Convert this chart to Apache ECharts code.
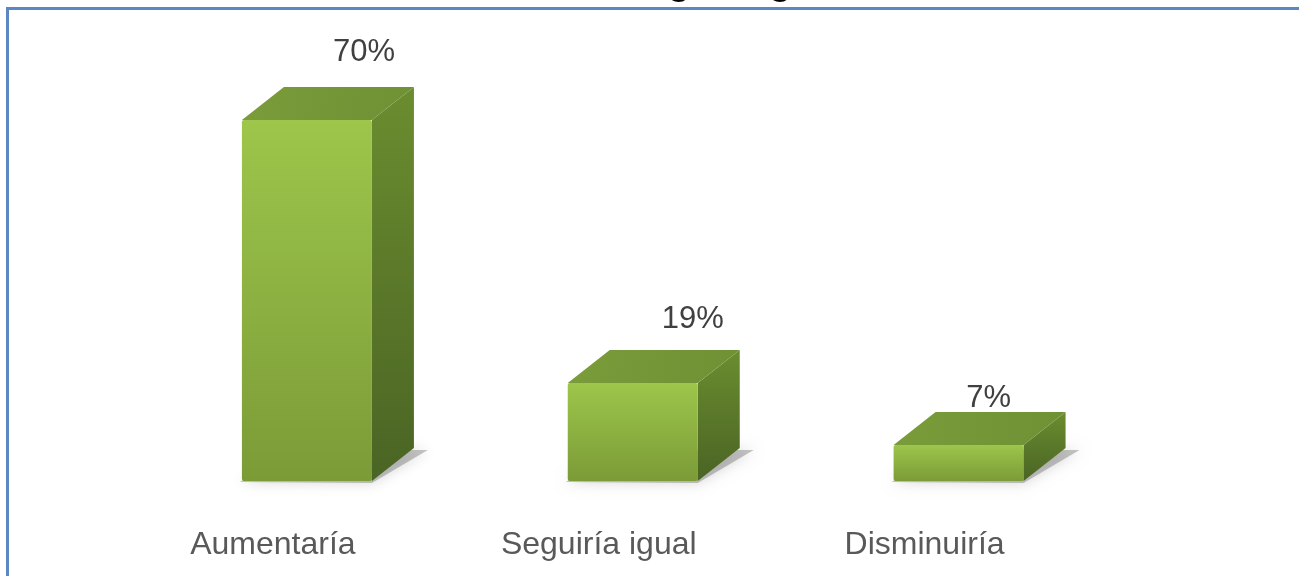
<!DOCTYPE html>
<html>
<head>
<meta charset="utf-8">
<script src="https://cdn.jsdelivr.net/npm/echarts@6/dist/echarts.min.js"></script>
<style>
html,body{margin:0;padding:0;background:#fff;}
#chart{width:1299px;height:576px;}
</style>
</head>
<body>
<div id="chart"></div>
<script>
const categories = ['Aumentaría', 'Seguiría igual', 'Disminuiría'];
const values = [70, 19, 7];
const valueLabels = ['70%', '19%', '7%'];
const titleFragment = ', según egresados';

// label nudges relative to the bar's back-top corner centre (style only)
const labelNudge = [[57, -35], [60, -31], [30, -13]];

const chart = echarts.init(document.getElementById('chart'));
const DX = 42, DY = 33, BW = 130;

function renderItem(params, api) {
  const idx = api.value(0);
  const v = api.value(1);
  const top = api.coord([idx, v]);
  const base = api.coord([idx, 0]);
  const cx = top[0];
  const x1 = cx - BW / 2, x2 = cx + BW / 2;
  const yt = top[1], yb = base[1];
  const children = [];
  // soft shadow
  children.push({
    type: 'polygon',
    shape: { points: [[x1 - 2, yb + 1], [x2, yb + 2], [x2 + DX + 14, yb - DY + 2], [x1 + DX + 10, yb - DY + 2]] },
    style: { fill: 'rgba(90,90,90,0.35)', shadowBlur: 14, shadowColor: 'rgba(0,0,0,0.45)' }
  });
  // side face
  children.push({
    type: 'polygon',
    shape: { points: [[x2, yt], [x2 + DX, yt - DY], [x2 + DX, yb - DY], [x2, yb]] },
    style: {
      fill: new echarts.graphic.LinearGradient(0, 0, 0, 1, [
        { offset: 0, color: '#6b8d2f' },
        { offset: 1, color: '#4a6424' }
      ])
    }
  });
  // top face
  children.push({
    type: 'polygon',
    shape: { points: [[x1, yt], [x1 + DX, yt - DY], [x2 + DX, yt - DY], [x2, yt]] },
    style: {
      fill: new echarts.graphic.LinearGradient(0, 0, 1, 1, [
        { offset: 0, color: '#7a9c3a' },
        { offset: 1, color: '#6f9034' }
      ])
    }
  });
  // front face
  children.push({
    type: 'rect',
    shape: { x: x1, y: yt, width: BW, height: yb - yt, r: 2 },
    style: {
      fill: new echarts.graphic.LinearGradient(0, 0, 0, 1, [
        { offset: 0, color: '#9dc64b' },
        { offset: 1, color: '#7b9b37' }
      ])
    }
  });
  const n = labelNudge[params.dataIndex] || [50, -25];
  children.push({
    type: 'text',
    style: {
      text: valueLabels[params.dataIndex],
      x: cx + n[0],
      y: yt - DY + n[1],
      align: 'center',
      verticalAlign: 'middle',
      fill: '#404040',
      font: '31px "Liberation Sans", Arial, sans-serif'
    }
  });
  return { type: 'group', children: children };
}

const option = {
  backgroundColor: '#ffffff',
  animation: false,
  grid: { left: 144, right: 177.5, top: 120, bottom: 95 },
  xAxis: {
    type: 'category',
    data: categories,
    axisLine: { show: false },
    axisTick: { show: false },
    axisLabel: {
      color: '#595959',
      fontFamily: '"Liberation Sans", Arial, sans-serif',
      fontSize: 32,
      margin: 48,
      padding: [0, 68, 0, 0]
    }
  },
  yAxis: {
    type: 'value', min: 0, max: 70, show: false, splitLine: { show: false }
  },
  series: [{
    type: 'custom',
    clip: false,
    renderItem: renderItem,
    encode: { x: 0, y: 1 },
    data: values.map((v, i) => [i, v])
  }],
  graphic: [
    {
      type: 'text',
      x: 604, y: -16,
      silent: true,
      style: {
        text: titleFragment,
        fill: '#000',
        font: 'bold 38px "Liberation Sans", Arial, sans-serif',
        verticalAlign: 'middle'
      }
    },
    {
      type: 'rect',
      shape: { x: 7.5, y: 8.5, width: 1400, height: 700 },
      style: { fill: '#fff', stroke: '#5b87c2', lineWidth: 3 },
      z: -10,
      silent: true
    }
  ]
};
chart.setOption(option);
</script>
</body>
</html>
